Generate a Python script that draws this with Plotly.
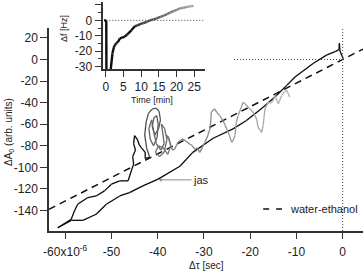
import plotly.graph_objects as go

# ---------------- data ----------------
# Inset: frequency shift (Hz) vs time (min)
inset_t = [-0.5, 0.15, 0.2, 1.3, 1.45, 1.9, 2.3, 2.6, 3.0, 3.5, 4.0, 4.6, 5.4, 6.0, 6.4, 7.3, 8.3,
           9.0, 9.7, 10.6, 11.6, 12.5, 13.5, 14.4, 15.4, 16.3, 17.3, 18.2, 19.2, 20.1, 21.0, 22.0,
           22.9, 23.9, 24.8]
inset_df = [0, 0, -40, -40, -31, -21.4, -17.5, -16, -14.8, -13.9, -11.7, -11.2, -10.6, -9.3, -8.4,
            -6.3, -3.7, -3.2, -2.4, -1.8, -0.9, 0.0, 0.6, 1.3, 2.3, 3.0, 4.1, 5.0, 6.2, 6.9, 7.8,
            8.2, 8.8, 9.1, 9.5]

# Main: "jas" trajectory, Delta tau (1e-6 s) vs Delta A0 (arb. units), in time order
jas_x = [0.1, -0.6, -0.7, -0.8, -1.5, -3.5, -6.4, -10.3, -12.1, -14.3, -17.2, -20.8, -23.7,
         -28.0, -32.4, -35.2, -39.9, -43.2, -46.1, -48.2, -51.1, -53.3, -56.2, -58.7, -61.6,
         -58.7, -58.0, -57.3, -55.1, -53.3, -51.5, -50.0, -48.2, -46.4, -45.7, -45.2, -45.4,
         -44.8, -45.2, -45.0, -44.4, -44.0, -43.5, -42.7, -42.7, -41.7,
         -42.4, -42.8, -42.5, -42.0, -41.2, -40.4, -39.7, -39.4, -39.8, -40.6, -41.2, -40.8,
         -40.2, -39.9, -40.1, -40.9, -41.6, -41.9, -41.3, -40.9, -40.3, -39.3, -38.6, -38.9,
         -39.2, -38.5, -38.0, -38.6, -39.6, -40.5, -39.8, -38.8, -37.8, -37.2, -37.6, -38.2,
         -37.4, -36.8, -36.3,
         -35.9, -35.6, -35.0, -34.5, -33.8, -33.1, -32.5, -32.0, -31.4, -30.9, -30.3, -29.8,
         -29.2, -28.7, -28.5, -28.4, -27.7, -27.2, -26.6, -25.9, -25.5, -25.1, -24.5, -24.0,
         -23.6, -23.3, -23.0, -22.6, -22.2, -21.5, -20.9, -20.4, -19.4, -19.0, -18.6, -18.3,
         -17.9, -17.5, -17.2, -16.8, -16.1, -15.5, -15.0, -14.7, -13.9, -13.2, -12.6, -12.1,
         -11.4]
jas_y = [0.9, 8.0, 15.0, 9.3, 7.5, 4.0, -3.7, -16.2, -24.0, -33.3, -44.2, -56.6, -64.3,
         -73.0, -86.1, -99.0, -110.9, -117.1, -123.4, -126.5, -134.2, -143.5, -149.1, -149.1, -156.0,
         -148.2, -140.4, -134.2, -128.0, -126.5, -121.8, -115.6, -112.5, -112.5, -103.2, -97.0, -90.0,
         -84.0, -78.0, -70.6, -74.0, -79.0, -82.0, -86.1, -91.7, -90.8,
         -82.0, -70.0, -58.0, -50.0, -46.0, -45.0, -48.0, -56.0, -64.0, -70.0, -62.0, -54.0,
         -52.0, -60.0, -72.0, -80.0, -74.0, -64.0, -56.0, -66.0, -78.0, -84.0, -78.0, -68.0,
         -60.0, -64.0, -74.0, -86.0, -90.0, -86.0, -80.0, -82.0, -88.0, -80.0, -72.0, -70.0,
         -76.0, -84.0, -83.0,
         -79.0, -76.8, -75.0, -73.6, -76.0, -78.3, -80.0, -83.0, -82.0, -86.1, -81.0, -76.8,
         -71.0, -64.3, -56.0, -48.8, -45.7, -49.0, -51.9, -56.6, -60.0, -64.3, -70.0, -76.8,
         -74.0, -70.6, -58.2, -52.0, -47.2, -39.5, -42.0, -44.2, -48.8, -52.0, -55.0, -62.8,
         -65.0, -67.5, -61.2, -45.7, -39.5, -40.5, -37.9, -33.3, -41.0, -33.3, -30.0, -28.6,
         -34.9]

# water-ethanol linear fit (end points)
fit_x = [-63.5, 4.4]
fit_y = [-138.9, 9.6]

# reference (zero) lines
zero_h_x = [-23.5, 0.0]
inset_zero_t = [0.15, 28.05]

# tick labels
x_tickvals = [-60, -50, -40, -30, -20, -10, 0]
x_ticktext = ["-60x10<sup>-6</sup>", "-50", "-40", "-30", "-20", "-10", "0"]
y_tickvals = [20, 0, -20, -40, -60, -80, -100, -120, -140]
y_ticktext = ["20", "0", "-20", "-40", "-60", "-80", "-100", "-120", "-140"]
inset_xtickvals = [0, 5, 10, 15, 20, 25]
inset_xticktext = ["0", "5", "10", "15", "20", "25"]
inset_ytickvals = [10, 0, -10, -20, -30]
inset_yticktext = ["10", "0", "-10", "-20", "-30"]
inset_yminor = [5, -5, -15, -25]

# ---------------- figure ----------------
FONT = "Liberation Sans, Arial, Helvetica, sans-serif"
TXT = "#222222"
fig = go.Figure()


def gray(v):
    v = int(round(v))
    return f"rgb({v},{v},{v})"


# water-ethanol dashed line
fig.add_trace(go.Scatter(x=fit_x, y=fit_y, mode="lines", xaxis="x", yaxis="y",
                         line=dict(color="#111111", width=1.5, dash="7px,5px"),
                         showlegend=False, hoverinfo="skip"))

# jas trajectory with black -> gray progression
n_black = 45
nseg = len(jas_x) - 1
for i in range(nseg):
    if i < n_black:
        c = gray(10)
    else:
        f = (i - n_black) / max(1, (nseg - 1 - n_black))
        c = gray(75 + f * 105)
    fig.add_trace(go.Scatter(x=jas_x[i:i + 2], y=jas_y[i:i + 2], mode="lines",
                             xaxis="x", yaxis="y",
                             line=dict(color=c, width=1.3),
                             showlegend=False, hoverinfo="skip"))

# horizontal dotted zero line (main)
fig.add_trace(go.Scatter(x=zero_h_x, y=[0, 0], mode="lines", xaxis="x", yaxis="y",
                         line=dict(color="#444444", width=1, dash="1px,2px"),
                         showlegend=False, hoverinfo="skip"))

# inset zero line
fig.add_trace(go.Scatter(x=inset_zero_t, y=[0, 0], mode="lines", xaxis="x2", yaxis="y2",
                         line=dict(color="#444444", width=1, dash="1px,2px"),
                         showlegend=False, hoverinfo="skip"))

# inset trace with black -> gray progression in time
for i in range(len(inset_t) - 1):
    tm = inset_t[i]
    if tm < 8:
        c = gray(15)
    else:
        f = min(1.0, (tm - 8) / 16.0)
        c = gray(45 + f * 125)
    fig.add_trace(go.Scatter(x=inset_t[i:i + 2], y=inset_df[i:i + 2], mode="lines",
                             xaxis="x2", yaxis="y2",
                             line=dict(color=c, width=2.4),
                             showlegend=False, hoverinfo="skip"))

axis_common = dict(showgrid=False, zeroline=False, showline=True, linecolor="#333333",
                   linewidth=1.5, ticks="outside", tickcolor="#333333", tickwidth=1.3,
                   tickfont=dict(family=FONT, size=12, color=TXT))

fig.update_layout(
    width=363, height=271,
    margin=dict(l=49, r=0, t=0, b=40),
    paper_bgcolor="white", plot_bgcolor="white",
    showlegend=False,
    xaxis=dict(domain=[0, 1], range=[-63.5, 4.4], anchor="y",
               tickmode="array", tickvals=x_tickvals, ticktext=x_ticktext,
               ticklen=6, ticklabelstandoff=3, **axis_common),
    yaxis=dict(domain=[0, 0.8788], range=[-159, 29.2], anchor="x",
               tickmode="array", tickvals=y_tickvals, ticktext=y_ticktext,
               ticklen=7, **axis_common),
    xaxis2=dict(domain=[0.173, 0.497], range=[-0.68, 28.05], anchor="y2",
                tickmode="array", tickvals=inset_xtickvals, ticktext=inset_xticktext,
                ticklen=6, **axis_common),
    yaxis2=dict(domain=[0.700, 0.991], range=[-31.8, 11.9], anchor="x2",
                tickmode="array", tickvals=inset_ytickvals, ticktext=inset_yticktext,
                ticklen=7, minor=dict(tickmode="array", tickvals=inset_yminor,
                                      ticks="outside", ticklen=4, tickcolor="#333333"),
                **axis_common),
    shapes=[
        # vertical dotted line at x = 0
        dict(type="line", xref="x", yref="y domain", x0=0, x1=0, y0=0, y1=1,
             line=dict(color="#444444", width=1, dash="1px,2px")),
        # legend sample (dashed)
        dict(type="line", xref="paper", yref="paper", x0=0.682, x1=0.742, y0=0.0952, y1=0.0952,
             line=dict(color="#111111", width=1.5, dash="6px,7px")),
    ],
    annotations=[
        dict(text="ΔA<sub>0</sub> (arb. units)", xref="paper", yref="paper", x=-0.1274, y=0.4286,
             textangle=-90, showarrow=False, xanchor="center", yanchor="middle",
             font=dict(family=FONT, size=10, color=TXT)),
        dict(text="Δτ [sec]", xref="paper", yref="paper", x=0.503, y=-0.149,
             showarrow=False, xanchor="center", yanchor="middle",
             font=dict(family=FONT, size=10, color=TXT)),
        dict(text="Time [min]", xref="paper", yref="paper", x=0.328, y=0.569,
             showarrow=False, xanchor="center", yanchor="middle",
             font=dict(family=FONT, size=9, color=TXT)),
        dict(text="Δf [Hz]", xref="paper", yref="paper", x=0.0478, y=0.874,
             textangle=-90, showarrow=False, xanchor="center", yanchor="middle",
             font=dict(family=FONT, size=9, color=TXT)),
        dict(text="water-ethanol", xref="paper", yref="paper", x=0.762, y=0.0952,
             showarrow=False, xanchor="left", yanchor="middle",
             font=dict(family=FONT, size=11, color=TXT)),
        dict(text="jas", xref="x", yref="y", x=-39.7, y=-111.6, ax=42, ay=0,
             showarrow=True, arrowhead=1, arrowsize=0.8, arrowwidth=1, arrowcolor="#888888",
             font=dict(family=FONT, size=11, color=TXT)),
    ],
)

fig.write_html("out.html")
